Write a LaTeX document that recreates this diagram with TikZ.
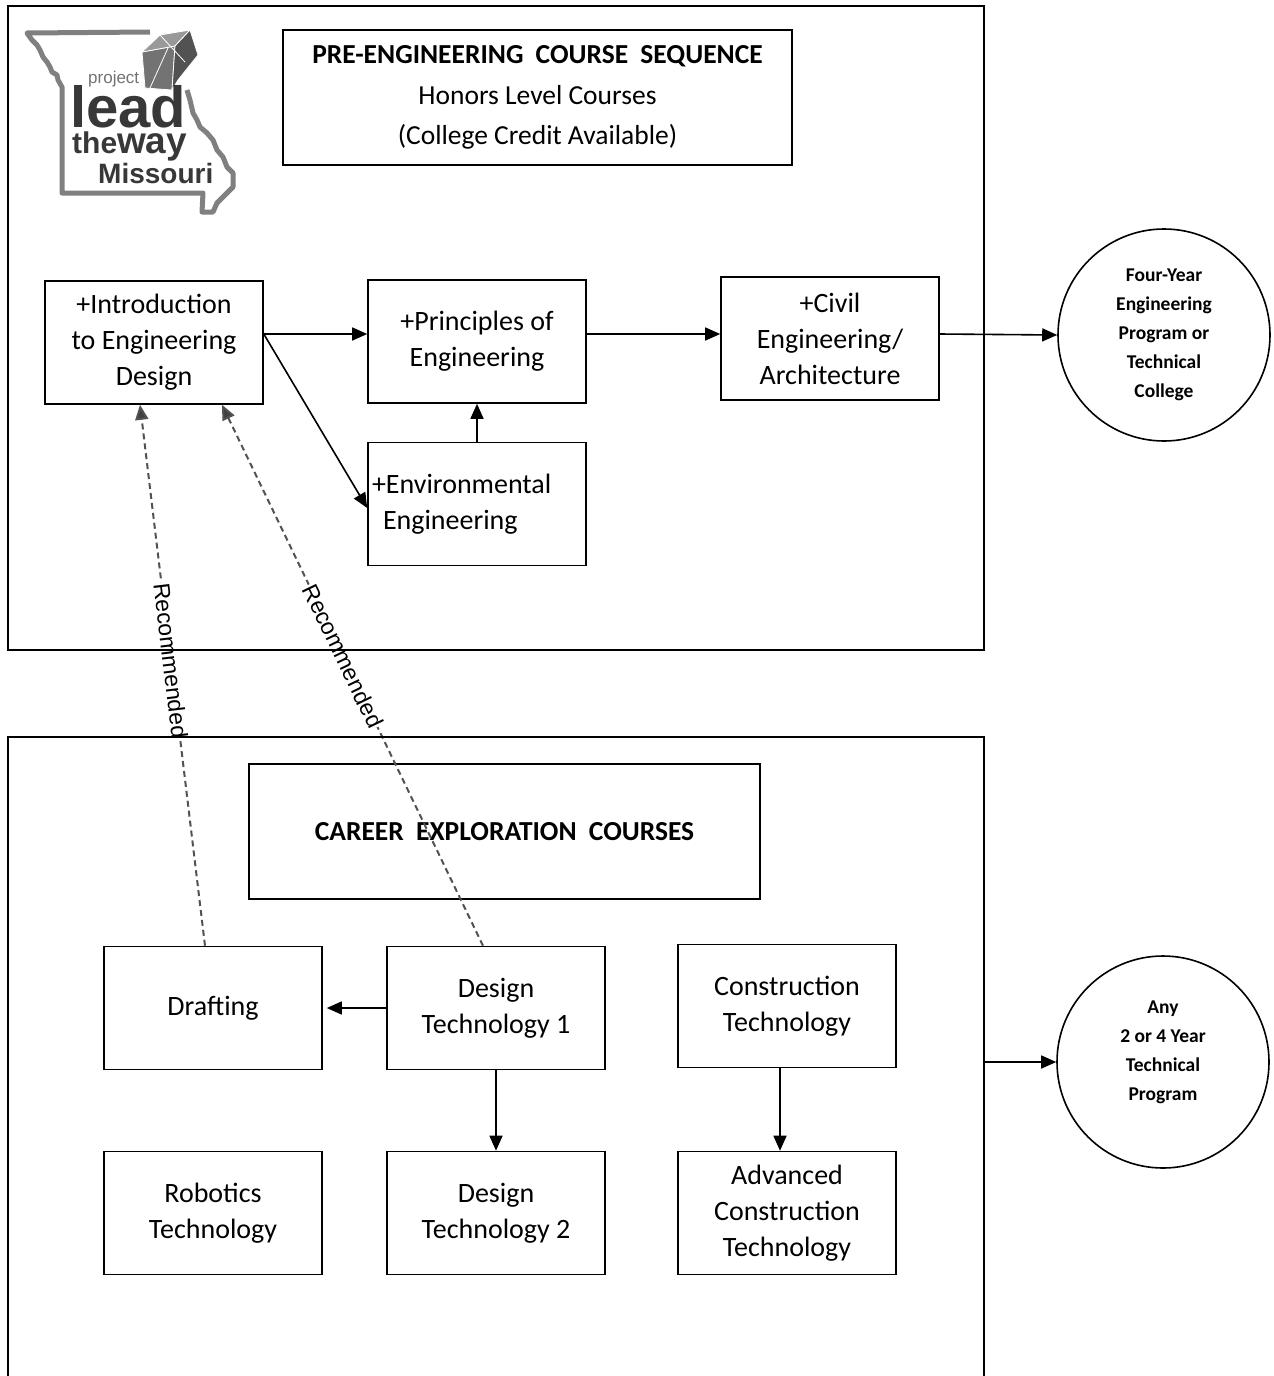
\documentclass[tikz,border=0pt]{standalone}
\usepackage{fontspec}
\setmainfont{Carlito}
\newfontfamily\arialf{Liberation Sans}
\usetikzlibrary{arrows.meta,calc}
\newcommand\bodyfs{\fontsize{28}{36}\selectfont}
\newcommand\circfs{\fontsize{19.5}{29}\selectfont\bfseries}
\newcommand\recfs{\arialf\fontsize{23}{23}\selectfont}
\begin{document}
\begin{tikzpicture}[x=1pt,y=-1pt,
  box/.style={draw, line width=1.6pt, minimum width=218pt, minimum height=123pt, inner sep=0pt, align=center, font=\bodyfs},
  endc/.style={draw, circle, line width=1.6pt, minimum size=212pt, inner sep=0pt, align=center, font=\circfs},
  arr/.style={line width=1.6pt, -{Triangle[length=15pt,width=13pt]}},
  recarr/.style={line width=2pt, draw=black!68, dash pattern=on 6pt off 4pt, -{Triangle[length=15pt,width=13pt,fill=black!75]}},
  reclab/.style={sloped, fill=white, inner sep=1pt, font=\recfs, text=black},
  frame/.style={line width=1.6pt},
  logotxt/.style={anchor=base west, inner sep=0pt, text=black!78},
]
\useasboundingbox (0,0) rectangle (1274,1376);
\fill[white] (0,0) rectangle (1274,1376);

% ---------- logo ----------
\draw[line width=5pt, draw=black!50, line join=round]
  (150,32) -- (27,33) -- (32,40) -- (37,45) -- (40,50) -- (43,57) -- (47,62) -- (50,67)
  -- (52,72) -- (57,75) -- (58,80) -- (62,87) -- (62,193) -- (203,193) -- (202,212)
  -- (213,212) -- (217,203) -- (223,197) -- (233,187) -- (233,173) -- (227,167)
  -- (223,157) -- (217,150) -- (213,140) -- (207,133) -- (200,127) -- (197,120)
  -- (193,113) -- (190,100) -- (187,90);
\fill[black!55, draw=white, line width=0.8pt] (142,52) -- (175,46) -- (172,90) -- (145,88) -- cycle;
\fill[black!40, draw=white, line width=0.8pt] (142,52) -- (160,35) -- (190,30) -- (175,46) -- cycle;
\fill[black!68, draw=white, line width=0.8pt] (175,46) -- (190,30) -- (198,55) -- (178,80) -- (172,90) -- cycle;
\draw[white, line width=0.8pt] (150,88) -- (168,48) (160,35) -- (185,62);
\node[logotxt, text=black!55, font=\arialf\fontsize{17}{17}\selectfont] (lp) at (88,83) {project};
\node[logotxt, font=\arialf\bfseries\fontsize{58}{58}\selectfont] (ll) at (70,127) {lead};
\node[logotxt, font=\arialf\bfseries\fontsize{30}{30}\selectfont] (lt) at (72,153) {the};
\node[logotxt, font=\arialf\bfseries\fontsize{37}{37}\selectfont] (lw) at (117,153) {way};
\node[logotxt, font=\arialf\bfseries\fontsize{28}{28}\selectfont] (lm) at (98,183) {Missouri};

% ---------- top section ----------
\node[box, minimum width=509pt, minimum height=135pt, font=\fontsize{27.5}{40.5}\selectfont] (title) at (537.5,97.5)
  {\textbf{PRE-ENGINEERING\hspace{6pt} COURSE\hspace{6pt} SEQUENCE}\\Honors Level Courses\\(College Credit Available)};
\node[box] (intro) at (154,342.5) {+Introduction\\to Engineering\\Design};
\node[box] (prin) at (477,341.5) {+Principles of\\Engineering};
\node[box, text width=210pt, align=left] (env) at (477,504) {+Environmental\\\hspace*{11pt}Engineering};
\node[box] (civil) at (830,338.5) {+Civil\\Engineering/\\Architecture};
\node[endc] (circ1) at (1164,335) {Four-Year\\Engineering\\Program or\\Technical\\College};

\draw[arr] ([yshift=8.5pt]intro.east) -- ([yshift=7.5pt]prin.west);
\draw[arr] ([yshift=7.5pt]prin.east) -- ([yshift=4.5pt]civil.west);
\draw[arr] ([yshift=4.5pt]civil.east) -- (circ1.west);
\draw[arr] ([yshift=8.5pt]intro.east) -- ([yshift=-4pt]env.west);
\draw[arr] (env.north) -- (prin.south);

% ---------- bottom section ----------
\node[box, minimum width=511pt, minimum height=135pt, font=\fontsize{27.5}{30}\selectfont\bfseries] (career) at (504.5,831.5)
  {CAREER\hspace{6pt} EXPLORATION\hspace{6pt} COURSES};
\node[box] (draft) at (213,1008) {Drafting};
\node[box] (dt1) at (496,1008) {Design\\Technology 1};
\node[box] (cons) at (787,1006) {Construction\\Technology};
\node[box] (rob) at (213,1213) {Robotics\\Technology};
\node[box] (dt2) at (496,1213) {Design\\Technology 2};
\node[box] (adv) at (787,1213) {Advanced\\Construction\\Technology};
\node[endc] (circ2) at (1163,1062) {\raisebox{11pt}[\height][\depth]{\begin{tabular}{@{}c@{}}Any\\2 or 4 Year\\Technical\\Program\end{tabular}}};

\draw[arr, shorten >=4pt] (dt1.west) -- (draft.east);
\draw[arr] (dt1.south) -- (dt2.north);
\draw[arr] ([xshift=-7pt]cons.south) -- ([xshift=-7pt]adv.north);

% ---------- recommended connectors ----------
\draw[recarr] ([xshift=-8pt]draft.north) -- node[reclab, pos=0.527] {Recommended} ([xshift=-14pt]intro.south);
\draw[recarr] ([xshift=-13pt]dt1.north) -- node[reclab, pos=0.536] {Recommended} ([xshift=68pt]intro.south);

% ---------- frames ----------
\draw[frame] (8,6) rectangle (984,650);
\draw[frame] (8,1380) -- (8,737) -- (984,737) -- (984,1380);
\coordinate (fr2) at (984,1062);
\draw[arr] (fr2) -- (circ2);
\end{tikzpicture}
\end{document}
